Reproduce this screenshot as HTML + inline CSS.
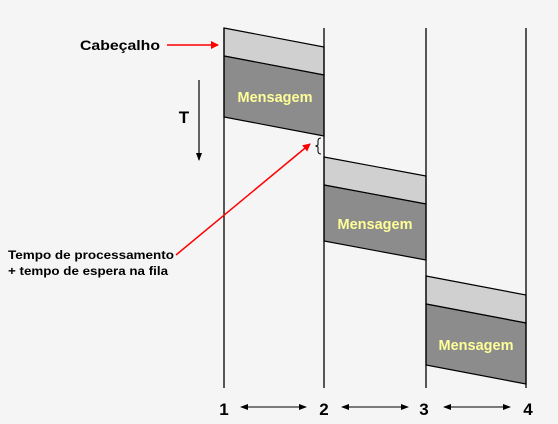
<!DOCTYPE html>
<html><head><style>
html,body{margin:0;padding:0;background:#f5f5f5;}
svg{display:block}
text{font-family:"Liberation Sans",Arial,sans-serif;font-weight:bold;}
</style></head><body>
<svg width="558" height="424" viewBox="0 0 558 424" xmlns="http://www.w3.org/2000/svg">
<defs>
<marker id="ar" markerWidth="8" markerHeight="8" refX="7" refY="4" orient="auto" markerUnits="userSpaceOnUse"><path d="M0,0 L8,4 L0,8 z" fill="red"/></marker>
<marker id="ak" markerWidth="8" markerHeight="8" refX="7" refY="4" orient="auto-start-reverse" markerUnits="userSpaceOnUse"><path d="M0,1 L8,4 L0,7 z" fill="#000"/></marker>
</defs>
<rect width="558" height="424" fill="#f5f5f5"/>
<polygon points="224,28 324,47 324,75 224,56" fill="#d0d0d0" stroke="#000" stroke-width="1.2"/>
<polygon points="224,56 324,75 324,136 224,117" fill="#8c8c8c" stroke="#000" stroke-width="1.2"/>
<text x="275" y="102" font-size="14.5" fill="#ffff99" text-anchor="middle">Mensagem</text>
<polygon points="324,157 426,176 426,204 324,185" fill="#d0d0d0" stroke="#000" stroke-width="1.2"/>
<polygon points="324,185 426,204 426,260 324,241" fill="#8c8c8c" stroke="#000" stroke-width="1.2"/>
<text x="375" y="229" font-size="14.5" fill="#ffff99" text-anchor="middle">Mensagem</text>
<polygon points="426,276 526,295 526,323 426,304" fill="#d0d0d0" stroke="#000" stroke-width="1.2"/>
<polygon points="426,304 526,323 526,384 426,365" fill="#8c8c8c" stroke="#000" stroke-width="1.2"/>
<text x="476" y="350" font-size="14.5" fill="#ffff99" text-anchor="middle">Mensagem</text>
<g stroke="#000" stroke-width="1.3">
<line x1="224" y1="28" x2="224" y2="388"/>
<line x1="324" y1="28" x2="324" y2="388"/>
<line x1="426" y1="28" x2="426" y2="388"/>
<line x1="526" y1="28" x2="526" y2="388"/>
</g>
<path d="M321,138 q-3,0 -3,3 v4 l-2,1 l2,1 v4 q0,3 3,3" fill="none" stroke="#000" stroke-width="1"/>
<line x1="199" y1="80" x2="199" y2="160" stroke="#000" stroke-width="1.2" marker-end="url(#ak)"/>
<text x="184" y="123" font-size="17" fill="#000" text-anchor="middle">T</text>
<line x1="167" y1="45" x2="218" y2="45" stroke="red" stroke-width="1.5" marker-end="url(#ar)"/>
<line x1="176" y1="255" x2="310" y2="144" stroke="red" stroke-width="1.5" marker-end="url(#ar)"/>
<text x="80" y="50" font-size="14" fill="#000" textLength="80" lengthAdjust="spacingAndGlyphs">Cabeçalho</text>
<text x="8" y="259" font-size="12" fill="#000" textLength="166" lengthAdjust="spacingAndGlyphs">Tempo de processamento</text>
<text x="8" y="275" font-size="12" fill="#000" textLength="160" lengthAdjust="spacingAndGlyphs">+ tempo de espera na fila</text>
<g font-size="17" fill="#000" text-anchor="middle">
<text x="224" y="415">1</text>
<text x="324" y="415">2</text>
<text x="424" y="415">3</text>
<text x="528" y="415">4</text>
</g>
<g stroke="#000" stroke-width="1">
<line x1="241" y1="407" x2="306" y2="407" marker-start="url(#ak)" marker-end="url(#ak)"/>
<line x1="342" y1="407" x2="408" y2="407" marker-start="url(#ak)" marker-end="url(#ak)"/>
<line x1="444" y1="407" x2="510" y2="407" marker-start="url(#ak)" marker-end="url(#ak)"/>
</g>
</svg>
</body></html>
